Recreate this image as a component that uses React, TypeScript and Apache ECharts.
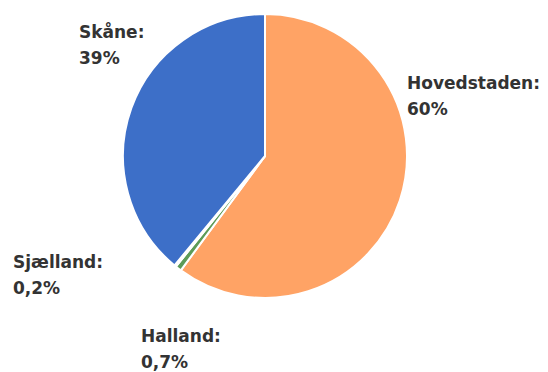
import React, { useEffect, useRef } from "react";
import * as echarts from "echarts";

const regions = ["Hovedstaden", "Halland", "Sjælland", "Skåne"];
const shares = [60.1, 0.7, 0.2, 39.0];
const shareLabels = ["60%", "0,7%", "0,2%", "39%"];
const colors = ["#ffa365", "#5c9b58", "#e8c547", "#3d6fc8"];
// label anchor spots inside the chart div (page coords minus the 8px body margin)
const labelSpots: Record<string, [number, number]> = {
  Hovedstaden: [399, 88],
  Halland: [133, 341],
  "Sjælland": [5, 267],
  "Skåne": [71, 37],
};

export default function App() {
  const ref = useRef<HTMLDivElement>(null);
  useEffect(() => {
    if (!ref.current) return;
    const chart = echarts.init(ref.current, null, { renderer: "svg" });
    chart.setOption({
      animation: false,
      series: [
        {
          type: "pie",
          center: [257, 148],
          radius: [0, 142],
          startAngle: 90,
          clockwise: true,
          avoidLabelOverlap: false,
          itemStyle: { borderColor: "#ffffff", borderWidth: 2 },
          label: {
            show: true,
            position: "outside",
            formatter: (p: any) => `${p.name}:\n${shareLabels[p.dataIndex]}`,
            fontFamily: "DejaVu Sans",
            fontWeight: "bold",
            fontSize: 17,
            lineHeight: 26,
            color: "#333333",
            align: "left",
          },
          labelLine: { show: false },
          labelLayout: (params: any) => {
            const name = regions[params.dataIndex];
            const spot = labelSpots[name];
            return {
              x: spot[0],
              y: spot[1],
              align: "left",
              verticalAlign: "middle",
            };
          },
          data: regions.map((name, i) => ({
            name,
            value: shares[i],
            itemStyle: { color: colors[i] },
          })),
        },
      ],
    });
    return () => chart.dispose();
  }, []);
  return <div ref={ref} style={{ width: 540, height: 364 }} />;
}
